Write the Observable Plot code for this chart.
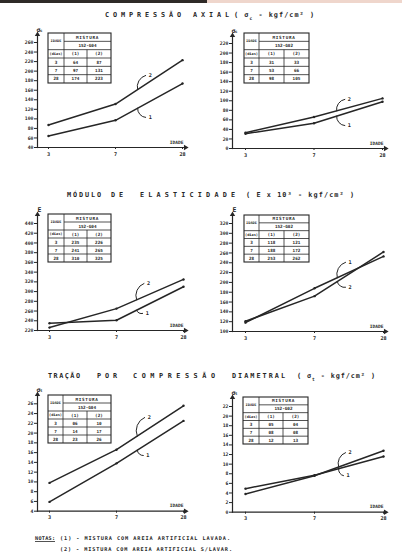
<!DOCTYPE html>
<html><head><meta charset="utf-8">
<script src="https://cdn.jsdelivr.net/npm/d3@7"></script>
<script src="https://cdn.jsdelivr.net/npm/@observablehq/plot@0.6"></script>
<style>
html,body{margin:0;padding:0;background:#fff;}
#page{position:relative;width:402px;height:558px;overflow:hidden;background:#fff;}
#page svg{position:absolute;}
</style></head><body><div id="page"></div>
<script>
// ---- data ----
const ages = ["3", "7", "28"];
const caG04_1 = [64, 97, 174];
const caG04_2 = [87, 131, 223];
const caG02_1 = [31, 53, 98];
const caG02_2 = [33, 66, 105];
const meG04_1 = [235, 241, 310];
const meG04_2 = [226, 265, 325];
const meG02_1 = [118, 188, 253];
const meG02_2 = [121, 172, 262];
const tdG04_1 = [5.9, 13.8, 22.5];
const tdG04_2 = [9.8, 16.6, 25.6];
const tdG02_1 = [4.9, 7.7, 11.6];
const tdG02_2 = [3.8, 7.6, 12.8];
const ticksCA04 = [40, 60, 80, 100, 120, 140, 160, 180, 200, 220, 240, 260];
const ticksCA02 = [0, 20, 40, 60, 80, 100, 120, 140, 160, 180, 200, 220];
const ticksME04 = [220, 240, 260, 280, 300, 320, 340, 360, 380, 400, 420, 440];
const ticksME02 = [100, 120, 140, 160, 180, 200, 220, 240, 260, 280, 300, 320];
const ticksTD04 = [4, 6, 8, 10, 12, 14, 16, 18, 20, 22, 24, 26];
const ticksTD02 = [0, 2, 4, 6, 8, 10, 12, 14, 16, 18, 20, 22];
const mixes = ["152-G04", "152-G02"];

const ink = "#262626";
const FONT = "'DejaVu Sans Mono', 'Liberation Mono', monospace";

// ---- layout configs ----
const charts = [
  {s:[caG04_1, caG04_2], ticks:ticksCA04, mix:mixes[0], sym:"σ", sub:"c",
   left:0, top:20, ax:37, x0:48, x2:182, xEnd:185, yb:147, yt:42, aTop:34,
   table:[48,64,87,111,33,83],
   ann:[{label:"2", s:2, xi:1.33, lx:1.45, ly:191}, {label:"1", s:1, xi:1.33, lx:1.45, ly:103}]},
  {s:[caG02_1, caG02_2], ticks:ticksCA02, mix:mixes[1], sym:"σ", sub:"c",
   left:197, top:20, ax:232, x0:245, x2:382, xEnd:385, yb:148, yt:43, aTop:35,
   table:[244,259,284,309,33,83],
   ann:[{label:"2", s:2, xi:1.33, lx:1.45, ly:103}, {label:"1", s:1, xi:1.33, lx:1.45, ly:48}]},
  {s:[meG04_1, meG04_2], ticks:ticksME04, mix:mixes[0], sym:"E", sub:"",
   left:0, top:200, ax:37, x0:49, x2:183, xEnd:185, yb:330, yt:223, aTop:214,
   table:[48,64,87,111,214,262],
   ann:[{label:"2", s:2, xi:1.30, lx:1.41, ly:316.7}, {label:"1", s:1, xi:1.30, lx:1.39, ly:255}]},
  {s:[meG02_1, meG02_2], ticks:ticksME02, mix:mixes[1], sym:"E", sub:"",
   left:197, top:200, ax:232, x0:245, x2:383, xEnd:385, yb:331, yt:223, aTop:214,
   table:[244,259,284,309,215,262],
   ann:[{label:"1", s:1, xi:1.33, lx:1.45, ly:241}, {label:"2", s:2, xi:1.33, lx:1.45, ly:190}]},
  {s:[tdG04_1, tdG04_2], ticks:ticksTD04, mix:mixes[0], sym:"σ", sub:"t",
   left:0, top:380, ax:37, x0:49, x2:183, xEnd:185, yb:510.7, yt:403.3, aTop:394,
   table:[48,63,87,111,395,443],
   ann:[{label:"2", s:2, xi:1.31, lx:1.42, ly:23.2}, {label:"1", s:1, xi:1.31, lx:1.40, ly:15.4}]},
  {s:[tdG02_1, tdG02_2], ticks:ticksTD02, mix:mixes[1], sym:"σ", sub:"t",
   left:197, top:380, ax:232, x0:245, x2:383, xEnd:385, yb:511.7, yt:406, aTop:397,
   table:[243,259,283,308,397,444],
   ann:[{label:"2", s:2, xi:1.35, lx:1.45, ly:12.4}, {label:"1", s:1, xi:1.35, lx:1.42, ly:7.6}]}
];

const page = document.getElementById("page");
const W = 205, H = 150;

function interp(vals, xi) {
  const i0 = Math.min(Math.floor(xi), vals.length - 2), f = xi - i0;
  return vals[i0] + (vals[i0 + 1] - vals[i0]) * f;
}

charts.forEach(c => {
  const rows = [];
  c.s.forEach((vals, si) => vals.forEach((v, i) => rows.push({s: si + 1, i, v})));
  const ann = c.ann.map(a => {
    const ty = interp(c.s[a.s - 1], a.xi);
    return {...a, ty, bend: a.ly > ty ? 45 : -45};
  });
  const ymin = c.ticks[0], ymax = c.ticks[c.ticks.length - 1];
  const marks = [
    Plot.frame({anchor: "left", stroke: ink, strokeWidth: 1.2}),
    Plot.frame({anchor: "bottom", stroke: ink, strokeWidth: 1.2}),
    Plot.axisY(c.ticks, {anchor: "left", tickSize: 3, tickPadding: 1, fontSize: 4.8, tickFormat: d => d, stroke: ink, strokeWidth: 1}),
    Plot.axisX([0, 1, 2], {anchor: "bottom", tickSize: 2, tickPadding: 2.5, fontSize: 5.2, tickFormat: i => ages[i], stroke: ink}),
    Plot.dot([0], {frameAnchor: "top-left", symbol: "triangle", r: 2, fill: ink, stroke: null}),
    Plot.dot([0], {frameAnchor: "bottom-right", symbol: "triangle", r: 2, rotate: 90, fill: ink, stroke: null}),
    Plot.text([c.sym], {frameAnchor: "top-left", text: d => d, dy: -7, dx: c.sub ? -1 : 0, fontSize: 6.5, fill: ink}),
    Plot.text(["IDADE"], {frameAnchor: "bottom-right", text: d => d, dx: -2, dy: -4, textAnchor: "end", fontSize: 4.6, fill: ink}),
    Plot.line(rows, {x: "i", y: "v", z: "s", stroke: ink, strokeWidth: 1.5}),
    Plot.dot(rows, {x: "i", y: "v", r: 1.2, fill: ink, stroke: null})
  ];
  if (c.sub) marks.push(Plot.text([c.sub], {frameAnchor: "top-left", text: d => d, dy: -5, dx: 2.5, fontSize: 4, fill: ink}));
  ann.forEach(a => {
    marks.push(Plot.arrow([a], {x1: "xi", y1: "ty", x2: "lx", y2: "ly", bend: a.bend, headLength: 0, stroke: ink, strokeWidth: 1}));
  });
  marks.push(Plot.text(ann, {x: "lx", y: "ly", text: "label", dx: 3, textAnchor: "start", fontSize: 5.2, fill: ink}));

  const svg = Plot.plot({
    width: W, height: H,
    marginLeft: c.ax - c.left,
    marginTop: c.aTop - c.top,
    marginRight: W - (c.xEnd - c.left),
    marginBottom: H - (c.yb - c.top),
    x: {domain: [0, 2], range: [c.x0 - c.left, c.x2 - c.left], axis: null},
    y: {domain: [ymin, ymax], range: [c.yb - c.top, c.yt - c.top], axis: null},
    style: {fontFamily: FONT, fontWeight: "bold", color: ink, background: "transparent", overflow: "visible"},
    marks
  });
  svg.style.left = c.left + "px";
  svg.style.top = c.top + "px";
  page.appendChild(svg);
});

// ---- overlay: titles, tables, notes ----
const ov = d3.select(page).append("svg")
  .attr("width", 402).attr("height", 558)
  .style("left", "0px").style("top", "0px")
  .style("font-family", FONT).style("font-weight", "bold")
  .attr("fill", ink);

ov.append("rect").attr("x", 0).attr("y", 0).attr("width", 207).attr("height", 3).attr("fill", "#2f2a27");
ov.append("rect").attr("x", 207).attr("y", 0).attr("width", 195).attr("height", 3).attr("fill", "#efd6cc");

const titles = [
  {y: 16.5, words: [["COMPRESSÃO", 105, 181], ["AXIAL", 193, 229]], unit: ["( σ", "c", " - kgf/cm² )", 234, 314]},
  {y: 196.5, words: [["MÓDULO", 67, 101], ["DE", 111, 123], ["ELASTICIDADE", 140, 235]], unit: ["( E x 10³ - kgf/cm² )", "", "", 246, 354]},
  {y: 377.5, words: [["TRAÇÃO", 48, 80], ["POR", 97, 117], ["COMPRESSÃO", 133, 215], ["DIAMETRAL", 232, 285]], unit: ["( σ", "t", " - kgf/cm² )", 297, 375]}
];
titles.forEach(t => {
  t.words.forEach(([w, x0, x1]) => {
    ov.append("text").attr("x", x0).attr("y", t.y).attr("font-size", 6.8)
      .attr("textLength", x1 - x0).attr("lengthAdjust", "spacing").text(w);
  });
  const [a, sub, b, x0, x1] = t.unit;
  const tx = ov.append("text").attr("x", x0).attr("y", t.y).attr("font-size", 6.8)
    .attr("textLength", x1 - x0).attr("lengthAdjust", "spacing").attr("xml:space", "preserve");
  tx.append("tspan").text(a);
  if (sub) {
    tx.append("tspan").attr("font-size", 4.5).attr("baseline-shift", "sub").text(sub);
    tx.append("tspan").text(b);
  }
});

const fmt = v => { const r = Math.round(v); return r < 10 ? "0" + r : String(r); };
charts.forEach(c => {
  const [xa, xb, xc, xd, y0, y1] = c.table;
  const rh = (y1 - y0) / 6;
  const ry = i => y0 + i * rh;
  const g = ov.append("g").attr("stroke", ink).attr("fill", "none");
  g.append("rect").attr("x", xa).attr("y", y0).attr("width", xd - xa).attr("height", y1 - y0).attr("fill", "#fff").attr("stroke-width", 1.1);
  g.append("line").attr("x1", xb).attr("x2", xd).attr("y1", ry(1)).attr("y2", ry(1)).attr("stroke-width", 0.8);
  [2, 3, 4, 5].forEach(i => g.append("line").attr("x1", xa).attr("x2", xd).attr("y1", ry(i)).attr("y2", ry(i)).attr("stroke-width", 0.8));
  g.append("line").attr("x1", xb).attr("x2", xb).attr("y1", y0).attr("y2", y1).attr("stroke-width", 0.8);
  g.append("line").attr("x1", xc).attr("x2", xc).attr("y1", ry(2)).attr("y2", y1).attr("stroke-width", 0.8);
  const t = ov.append("g").attr("font-size", 4.3).attr("text-anchor", "middle").attr("dominant-baseline", "central").attr("fill", ink);
  const m1 = (xa + xb) / 2, m23 = (xb + xd) / 2, m2 = (xb + xc) / 2, m3 = (xc + xd) / 2;
  t.append("text").attr("x", m1).attr("y", ry(1)).attr("font-size", 3.6).text("IDADE");
  t.append("text").attr("x", m1).attr("y", ry(2.5)).attr("font-size", 3.6).text("(dias)");
  t.append("text").attr("x", m23).attr("y", ry(0.5)).attr("letter-spacing", 0.7).text("MISTURA");
  t.append("text").attr("x", m23).attr("y", ry(1.5)).text(c.mix);
  t.append("text").attr("x", m2).attr("y", ry(2.5)).text("(1)");
  t.append("text").attr("x", m3).attr("y", ry(2.5)).text("(2)");
  ages.forEach((a, i) => {
    t.append("text").attr("x", m1).attr("y", ry(3.5 + i)).text(a);
    t.append("text").attr("x", m2).attr("y", ry(3.5 + i)).text(fmt(c.s[0][i]));
    t.append("text").attr("x", m3).attr("y", ry(3.5 + i)).text(fmt(c.s[1][i]));
  });
});

// notes
ov.append("text").attr("x", 35).attr("y", 540).attr("font-size", 5.2).attr("textLength", 20).attr("lengthAdjust", "spacing").text("NOTAS:");
ov.append("line").attr("x1", 35).attr("x2", 55).attr("y1", 541.5).attr("y2", 541.5).attr("stroke", ink).attr("stroke-width", 0.8);
ov.append("text").attr("x", 60).attr("y", 540).attr("font-size", 5.2).attr("textLength", 170).attr("lengthAdjust", "spacing").attr("xml:space", "preserve")
  .text("(1) - MISTURA COM AREIA ARTIFICIAL LAVADA.");
ov.append("text").attr("x", 60).attr("y", 551).attr("font-size", 5.2).attr("textLength", 172).attr("lengthAdjust", "spacing").attr("xml:space", "preserve")
  .text("(2) - MISTURA COM AREIA ARTIFICIAL S/LAVAR.");
</script>
</body></html>
